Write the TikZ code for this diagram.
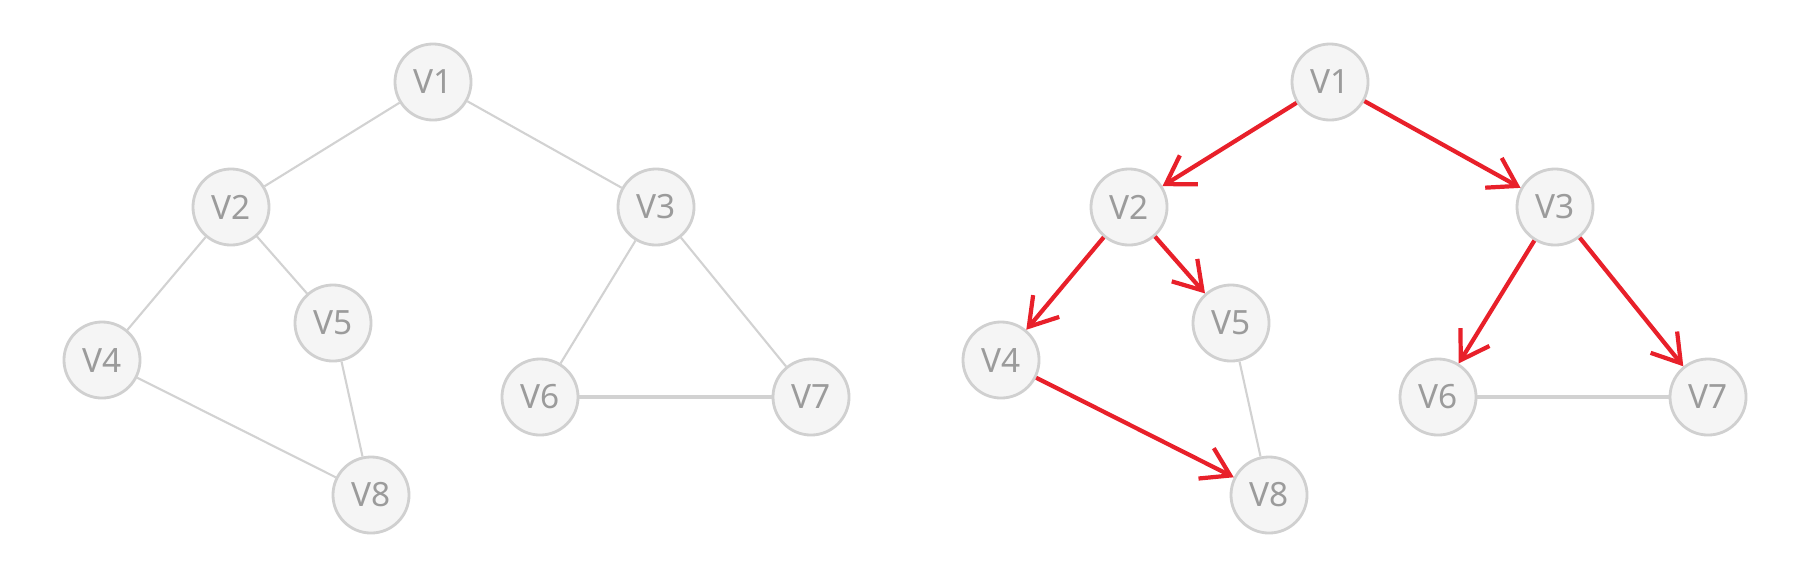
\documentclass[tikz,border=0pt]{standalone}
\usepackage{fontspec}
\setmainfont{Noto Sans}
\usepackage{xcolor}
\usepackage{tikz}
\usetikzlibrary{arrows.meta}
\definecolor{vertexFill}{RGB}{245, 245, 245}
\definecolor{vertexLine}{RGB}{208, 208, 208}
\definecolor{vertexText}{RGB}{155, 155, 155}
\definecolor{edgeGray}{RGB}{210, 210, 210}
\definecolor{arcRed}{RGB}{232, 32, 42}

\begin{document}
\begin{tikzpicture}[x=0.01cm, y=-0.01cm,
        vertex/.style={circle, minimum size=0.76cm, inner sep=0pt, fill=vertexFill,
            draw=vertexLine, line width=0.8pt, text=vertexText, font=\fontsize{9.5}{10}\selectfont},
        edge/.style={draw=edgeGray, line width=0.6pt},
        arc/.style={draw=arcRed, line width=1.2pt,
            -{Straight Barb[length=0.27cm, width=0.34cm, line width=1.2pt]}}]
        \useasboundingbox (0, 0) rectangle (1804, 578);

        % Undirected graph
        \node[vertex] (a1) at (433, 82) {V1};
        \node[vertex] (a2) at (231, 207) {V2};
        \node[vertex] (a3) at (656, 207) {V3};
        \node[vertex] (a4) at (102, 360) {V4};
        \node[vertex] (a5) at (333, 323) {V5};
        \node[vertex] (a6) at (540, 397) {V6};
        \node[vertex] (a7) at (811, 397) {V7};
        \node[vertex] (a8) at (371, 495) {V8};

        \draw[edge] (a1) -- (a2);
        \draw[edge] (a1) -- (a3);
        \draw[edge] (a2) -- (a4);
        \draw[edge] (a2) -- (a5);
        \draw[edge] (a4) -- (a8);
        \draw[edge] (a5) -- (a8);
        \draw[edge] (a3) -- (a6);
        \draw[edge] (a3) -- (a7);
        \draw[edge, line width=0.9pt] (a6) -- (a7);

        % Spanning tree
        \node[vertex] (b1) at (1330, 82) {V1};
        \node[vertex] (b2) at (1129, 207) {V2};
        \node[vertex] (b3) at (1555, 207) {V3};
        \node[vertex] (b4) at (1001, 360) {V4};
        \node[vertex] (b5) at (1231, 323) {V5};
        \node[vertex] (b6) at (1438, 397) {V6};
        \node[vertex] (b7) at (1708, 397) {V7};
        \node[vertex] (b8) at (1269, 495) {V8};

        \draw[edge] (b5) -- (b8);
        \draw[edge, line width=0.9pt] (b6) -- (b7);

        \draw[arc] (b1) -- (b2);
        \draw[arc] (b1) -- (b3);
        \draw[arc] (b2) -- (b4);
        \draw[arc] (b2) -- (b5);
        \draw[arc] (b4) -- (b8);
        \draw[arc] (b3) -- (b6);
        \draw[arc] (b3) -- (b7);
    \end{tikzpicture}
\end{document}
